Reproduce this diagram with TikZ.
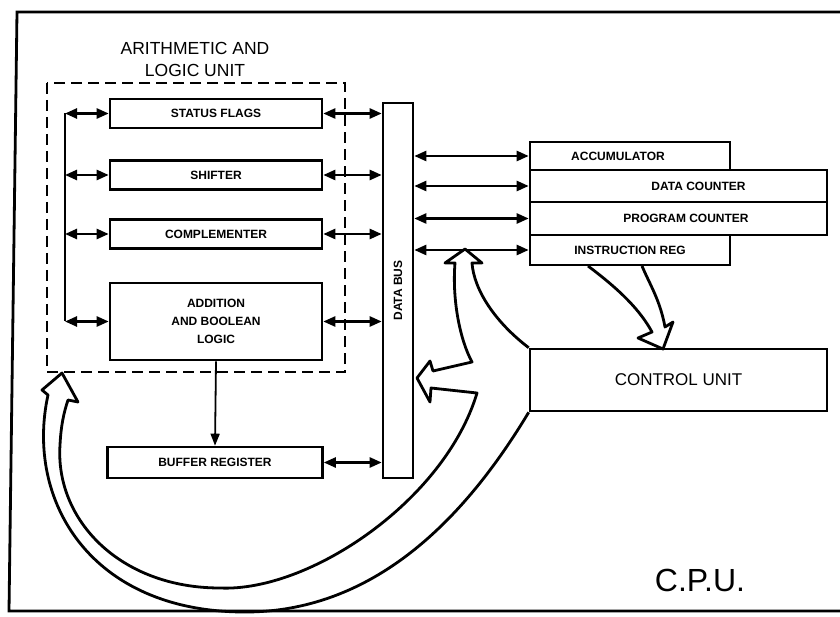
\documentclass[tikz,border=0pt]{standalone}
\usepackage{fontspec}
\setmainfont{Liberation Sans}
\usetikzlibrary{arrows.meta}
\begin{document}
\begin{tikzpicture}[x=1pt,y=-1pt,
    unit/.style={draw,line width=2.6pt,minimum width=212pt,minimum height=29pt,inner sep=0pt,
        font=\bfseries\fontsize{12}{18}\selectfont,align=center},
    reg/.style={draw,line width=2.6pt,inner sep=0pt,font=\bfseries\fontsize{12}{14}\selectfont},
    link/.style={line width=2.4pt,{Triangle[length=12pt,width=10pt]}-{Triangle[length=12pt,width=10pt]}},
    hollow/.style={line width=2.8pt,line join=round}]
    \useasboundingbox (0,0) rectangle (840,617);
    \draw[line width=2.8pt] (840,12) -- (17,12) -- (9,611) -- (840,611);

    % arithmetic and logic unit
    \draw[line width=2.6pt,dash pattern=on 11pt off 6pt] (47,83) rectangle (345,372);
    \node[font=\fontsize{17.5}{22}\selectfont,align=center] (alutitle) at (195,59) {ARITHMETIC AND\\LOGIC UNIT};
    \node[unit] (flags) at (216,113.5) {STATUS FLAGS};
    \node[unit] (shift) at (216,175) {SHIFTER};
    \node[unit] (compl) at (216,234) {COMPLEMENTER};
    \node[unit,minimum height=77pt] (addbl) at (216,321.5) {ADDITION\\AND BOOLEAN\\LOGIC};
    \node[unit,minimum width=215pt,minimum height=31pt] (buffer) at (215,462.5) {BUFFER REGISTER};

    % data bus
    \node[draw,line width=2.6pt,minimum width=30pt,minimum height=375pt] (bus) at (398,290.5) {};
    \node[rotate=90,font=\bfseries\fontsize{12}{14}\selectfont] (buslabel) at (bus) {DATA BUS};

    % registers and control
    \node[reg,minimum width=200pt,minimum height=28pt] (acc) at (630,156) {\hspace*{-24pt}ACCUMULATOR};
    \node[reg,minimum width=297pt,minimum height=32pt] (dc) at (678.5,186) {\hspace*{40pt}DATA COUNTER};
    \node[reg,minimum width=297pt,minimum height=33pt] (pc) at (678.5,218.5) {\hspace*{15pt}PROGRAM COUNTER};
    \node[reg,minimum width=200pt,minimum height=30pt] (ir) at (630,250) {INSTRUCTION REG};
    \node[draw,line width=2.6pt,minimum width=297pt,minimum height=62pt,font=\fontsize{17}{20}\selectfont] (cu) at (678.5,380) {CONTROL UNIT};
    \node[font=\fontsize{32}{36}\selectfont] (cpu) at (700,580) {C.P.U.};

    % internal paths
    \coordinate (spine) at (65,0);
    \draw[line width=2.4pt] (spine |- flags) -- (spine |- addbl);
    \foreach \u in {flags,shift,compl,addbl} {
        \draw[link] (spine |- \u) -- (\u.west);
        \draw[link] (\u.east) -- (bus.west |- \u);
    }
    \draw[link] (buffer.east) -- (bus.west |- buffer);
    \draw[line width=1.8pt,-{Triangle[length=12pt,width=9pt]}] (addbl.south) -- (buffer.north);
    \foreach \r in {acc,dc,pc,ir} {
        \draw[link] (bus.east |- \r) -- (\r.west);
    }

    % hollow control arrows
    \draw[hollow] (588,266) .. controls (620,290) and (640,310) .. (652,332)
        -- (638,338) -- (663,349) -- (673,322) -- (665,327)
        .. controls (660,300) and (650,285) .. (642,266);
    \draw[hollow] (cu.north west) .. controls (495,322) and (474,290) .. (472,263)
        -- (482,263) -- (465,249) -- (445,263) -- (455,263)
        .. controls (452,300) and (460,340) .. (472,362)
        -- (433,371) -- (430,361) -- (417,378) -- (430,402) -- (431,388) -- (477,393)
        .. controls (445,500) and (310,592) .. (220,588)
        .. controls (120,588) and (55,520) .. (60,445)
        .. controls (61,425) and (64,412) .. (68,400)
        -- (78,402) -- (62,373) -- (42,390) -- (48,395)
        .. controls (25,500) and (90,612) .. (245,612)
        .. controls (380,612) and (470,510) .. (cu.south west);
\end{tikzpicture}
\end{document}
